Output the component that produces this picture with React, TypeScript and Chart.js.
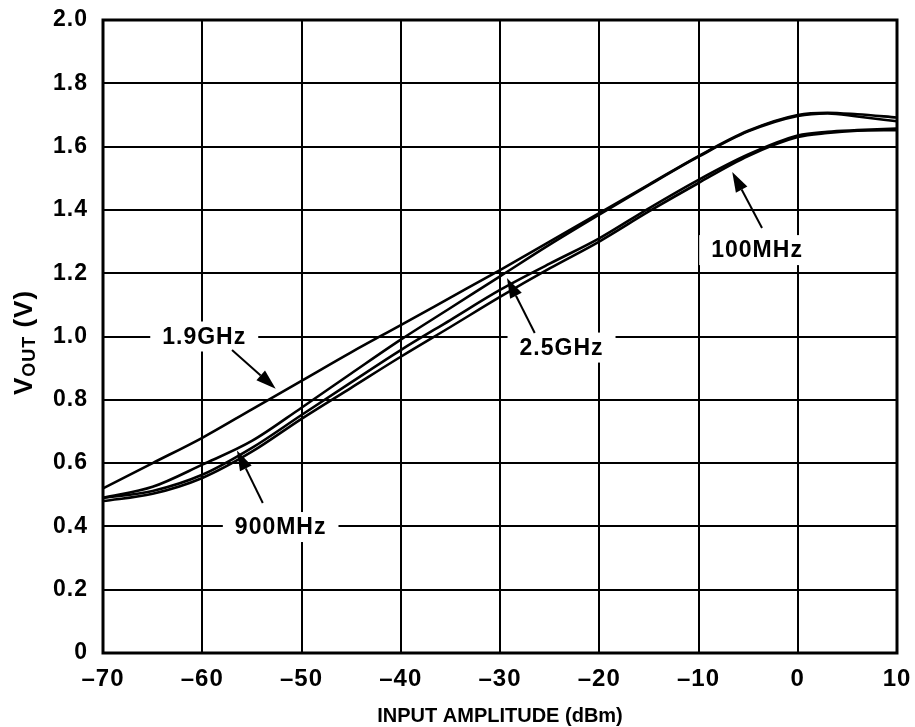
import React, { useEffect, useRef } from 'react';
import { Chart, registerables } from 'chart.js';

Chart.register(...registerables);

// ---- data ----
const inputDbm = [-70, -65, -60, -55, -50, -45, -40, -35, -30, -25, -20, -15, -10, -5, 0, 3, 6, 10];
const vout1900MHz = [0.52, 0.6, 0.68, 0.77, 0.86, 0.95, 1.036, 1.123, 1.21, 1.3, 1.39, 1.48, 1.57, 1.65, 1.7, 1.707, 1.702, 1.692];
const vout2500MHz = [0.49, 0.525, 0.595, 0.67, 0.775, 0.883, 0.99, 1.09, 1.19, 1.29, 1.385, 1.478, 1.568, 1.648, 1.697, 1.705, 1.695, 1.68];
const vout900MHz = [0.49, 0.512, 0.563, 0.648, 0.752, 0.855, 0.957, 1.052, 1.147, 1.23, 1.31, 1.405, 1.495, 1.575, 1.635, 1.647, 1.652, 1.657];
const vout100MHz = [0.48, 0.503, 0.553, 0.636, 0.74, 0.838, 0.936, 1.03, 1.125, 1.215, 1.3, 1.395, 1.485, 1.57, 1.63, 1.643, 1.65, 1.652];

const xTickLabels = ['–70', '–60', '–50', '–40', '–30', '–20', '–10', '0', '10'];
const yTickLabels = ['0', '0.2', '0.4', '0.6', '0.8', '1.0', '1.2', '1.4', '1.6', '1.8', '2.0'];
const xAxisTitle = 'INPUT AMPLITUDE (dBm)';
const yAxisMain = 'V';
const yAxisSub = 'OUT';
const yAxisUnit = ' (V)';

const curveLabels = ['1.9GHz', '2.5GHz', '900MHz', '100MHz'];

// annotation placement in data coordinates (label centre, arrow start, arrow tip)
const annotations = [
  { text: curveLabels[0], lx: -59.8, ly: 1.0, sx: -57.0, sy: 0.957, tx: -52.6, ty: 0.835 },
  { text: curveLabels[1], lx: -23.8, ly: 0.965, sx: -26.5, sy: 1.011, tx: -29.3, ty: 1.185 },
  { text: curveLabels[2], lx: -52.1, ly: 0.398, sx: -53.9, sy: 0.474, tx: -56.5, ty: 0.64 },
  { text: curveLabels[3], lx: -4.1, ly: 1.273, sx: -3.6, sy: 1.343, tx: -6.6, ty: 1.52 },
];

const FONT = "'Liberation Sans', Arial, Helvetica, sans-serif";

const decorPlugin = {
  id: 'decor',
  beforeDraw(chart: any) {
    (chart.ctx as any).letterSpacing = '1px';
  },
  afterDatasetsDraw(chart: any) {
    const { ctx, chartArea: a } = chart;
    const x = chart.scales.x;
    const y = chart.scales.y;
    ctx.save();
    (ctx as any).letterSpacing = '1px';
    // frame
    ctx.strokeStyle = '#000';
    ctx.lineWidth = 3;
    ctx.strokeRect(a.left, a.top, a.right - a.left, a.bottom - a.top);

    // annotations
    ctx.font = `bold 23px ${FONT}`;
    for (const an of annotations) {
      const cx = x.getPixelForValue(an.lx);
      const cy = y.getPixelForValue(an.ly);
      const w = ctx.measureText(an.text).width;
      ctx.fillStyle = '#fff';
      ctx.fillRect(cx - w / 2 - 12, cy - 15, w + 24, 30);
      ctx.fillStyle = '#000';
      ctx.textAlign = 'center';
      ctx.textBaseline = 'middle';
      ctx.fillText(an.text, cx, cy + 1);

      const sx = x.getPixelForValue(an.sx);
      const sy = y.getPixelForValue(an.sy);
      const tx = x.getPixelForValue(an.tx);
      const ty = y.getPixelForValue(an.ty);
      const ang = Math.atan2(ty - sy, tx - sx);
      const headLen = 20;
      const headW = 6.5;
      const bx = tx - headLen * Math.cos(ang);
      const by = ty - headLen * Math.sin(ang);
      ctx.lineWidth = 2;
      ctx.beginPath();
      ctx.moveTo(sx, sy);
      ctx.lineTo(bx, by);
      ctx.stroke();
      ctx.beginPath();
      ctx.moveTo(tx, ty);
      ctx.lineTo(bx + headW * Math.sin(ang), by - headW * Math.cos(ang));
      ctx.lineTo(bx - headW * Math.sin(ang), by + headW * Math.cos(ang));
      ctx.closePath();
      ctx.fill();
    }

    // x axis title
    (ctx as any).letterSpacing = '0px';
    ctx.font = `bold 20px ${FONT}`;
    ctx.textAlign = 'center';
    ctx.textBaseline = 'alphabetic';
    ctx.fillText(xAxisTitle, (a.left + a.right) / 2, 722);

    // y axis title with subscript
    (ctx as any).letterSpacing = '1px';
    ctx.save();
    ctx.translate(32, (a.top + a.bottom) / 2 + 6);
    ctx.rotate(-Math.PI / 2);
    const mainFont = `bold 26px ${FONT}`;
    const subFont = `bold 18px ${FONT}`;
    ctx.font = mainFont;
    const w1 = ctx.measureText(yAxisMain).width;
    const w3 = ctx.measureText(yAxisUnit).width;
    ctx.font = subFont;
    const w2 = ctx.measureText(yAxisSub).width;
    let px = -(w1 + w2 + w3) / 2;
    ctx.textAlign = 'left';
    ctx.font = mainFont;
    ctx.fillText(yAxisMain, px, 0);
    px += w1;
    ctx.font = subFont;
    ctx.fillText(yAxisSub, px, 3);
    px += w2;
    ctx.font = mainFont;
    ctx.fillText(yAxisUnit, px, 0);
    ctx.restore();

    ctx.restore();
  },
};

function makeSeries(values: number[]) {
  return inputDbm.map((v, i) => ({ x: v, y: values[i] }));
}

export default function App() {
  const canvasRef = useRef<HTMLCanvasElement>(null);

  useEffect(() => {
    if (!canvasRef.current) return;
    const lineStyle = {
      borderColor: '#000',
      borderWidth: 2.6,
      pointRadius: 0,
      fill: false,
      tension: 0.4,
      cubicInterpolationMode: 'monotone' as const,
    };
    const chart = new Chart(canvasRef.current, {
      type: 'line',
      data: {
        datasets: [
          { label: curveLabels[0], data: makeSeries(vout1900MHz), ...lineStyle },
          { label: curveLabels[1], data: makeSeries(vout2500MHz), ...lineStyle },
          { label: curveLabels[2], data: makeSeries(vout900MHz), ...lineStyle },
          { label: curveLabels[3], data: makeSeries(vout100MHz), ...lineStyle },
        ],
      },
      options: {
        animation: false,
        responsive: false,
        devicePixelRatio: 1,
        layout: { padding: { left: 0, top: 20, right: 18, bottom: 0 } },
        plugins: { legend: { display: false }, tooltip: { enabled: false } },
        scales: {
          x: {
            type: 'linear',
            min: -70,
            max: 10,
            afterFit: (s: any) => {
              s.height = 74;
              s.paddingLeft = 0;
              s.paddingRight = 0;
            },
            afterBuildTicks: (s: any) => {
              s.ticks = xTickLabels.map((_, i) => ({ value: -70 + i * 10 }));
            },
            ticks: {
              color: '#000',
              padding: 12,
              font: { family: FONT, size: 24, weight: 'bold' },
              maxRotation: 0,
              autoSkip: false,
              callback: (_v: any, i: number) => xTickLabels[i],
            },
            grid: { color: '#000', lineWidth: 2, drawTicks: false },
            border: { display: false },
          },
          y: {
            type: 'linear',
            min: 0,
            max: 2,
            afterFit: (s: any) => {
              s.width = 103;
              s.paddingTop = 0;
              s.paddingBottom = 0;
            },
            afterBuildTicks: (s: any) => {
              s.ticks = yTickLabels.map((_, i) => ({ value: i * 0.2 }));
            },
            ticks: {
              color: '#000',
              padding: 15,
              font: { family: FONT, size: 23, weight: 'bold' },
              autoSkip: false,
              callback: (_v: any, i: number) => yTickLabels[i],
            },
            grid: { color: '#000', lineWidth: 2, drawTicks: false },
            border: { display: false },
          },
        },
      },
      plugins: [decorPlugin],
    });
    return () => chart.destroy();
  }, []);

  return (
    <div style={{ position: 'absolute', left: 0, top: 0, width: 915, height: 727, background: '#fff' }}>
      <canvas ref={canvasRef} width={915} height={727} style={{ width: 915, height: 727, display: 'block' }} />
    </div>
  );
}
